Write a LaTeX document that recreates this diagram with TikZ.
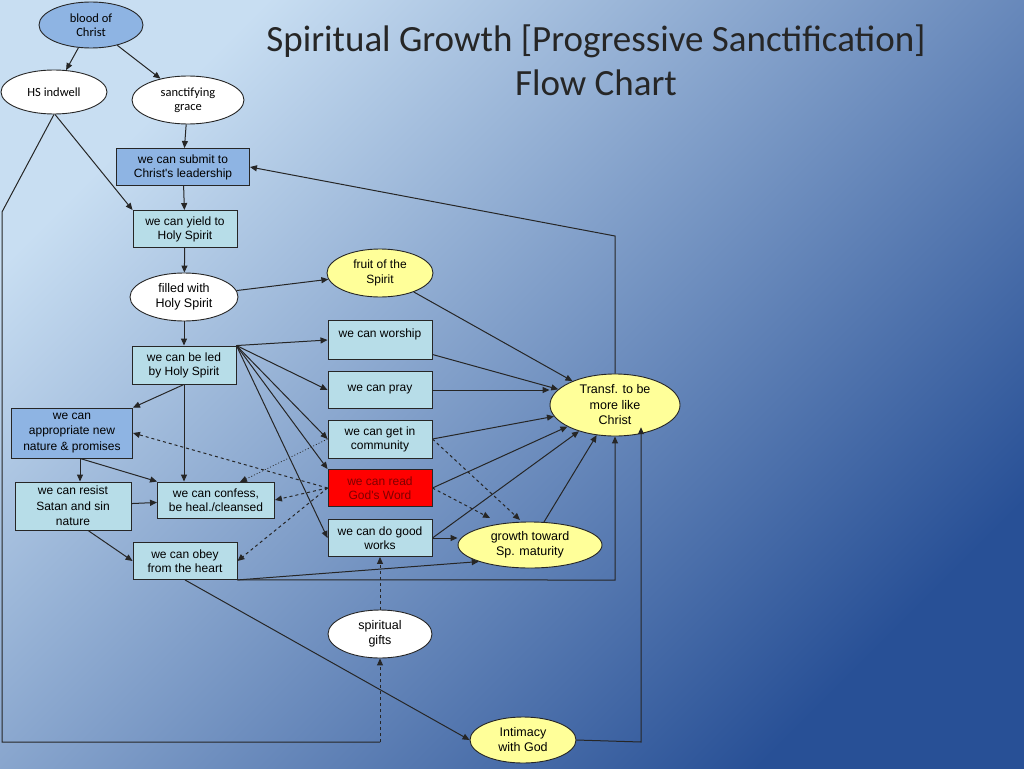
\documentclass[tikz,border=0pt]{standalone}
\usepackage{fontspec}
\setmainfont{Carlito}
\newfontfamily\arialf{Liberation Sans}
\usetikzlibrary{shapes.geometric,arrows.meta}
\definecolor{medblue}{HTML}{8EB4E3}
\definecolor{lightc}{HTML}{B7DDE8}
\definecolor{yel}{HTML}{FFFF99}
\definecolor{bgul}{RGB}{200,222,242}
\definecolor{bglr}{RGB}{40,80,150}
\begin{document}
\begin{tikzpicture}[x=1pt,y=-1pt,
  every node/.style={font=\fontsize{12.5}{14}\selectfont, align=center, inner sep=0pt, line width=0.9pt, draw=black!85},
  ov/.style={ellipse, draw, fill=white},
  bx/.style={rectangle, draw, fill=lightc, font=\arialf\fontsize{12}{14}\selectfont},
  ar/.style={-{Triangle[length=7pt,width=6pt]}, line width=1pt, black!85},
  da/.style={ar, dashed},
  do/.style={ar, dotted, line width=0.7pt}]
\useasboundingbox (0,0) rectangle (1024,768);
\shade[top color=bgul, bottom color=bglr, shading angle=45]
  (0,0) rectangle (1024,768);
\node[draw=none, font=\fontsize{37}{44}\selectfont, text=black!85] (title) at (596,60)
  {Spiritual Growth [Progressive Sanctification]\\Flow Chart};
% nodes
\node[ov, fill=medblue, minimum width=104, minimum height=46] (blood) at (91,25) {blood of\\Christ};
\node[ov, minimum width=106, minimum height=44] (hs) at (54,92) {HS indwell};
\node[ov, minimum width=112, minimum height=48] (sanct) at (188,100) {sanctifying\\grace};
\node[bx, fill=medblue, minimum width=133, minimum height=37] (submit) at (183,167) {we can submit to\\Christ's leadership};
\node[bx, minimum width=104, minimum height=37] (yield) at (185,229) {we can yield to\\Holy Spirit};
\node[ov, minimum width=108, minimum height=48, font=\arialf\fontsize{12.5}{15}\selectfont] (filled) at (184,297) {filled with\\Holy Spirit};
\node[ov, fill=yel, minimum width=106, minimum height=48, font=\arialf\fontsize{12}{15}\selectfont] (fruit) at (380,273) {fruit of the\\Spirit};
\node[bx, minimum width=104, minimum height=39, text depth=14pt] (worship) at (380,340) {we can worship};
\node[bx, minimum width=104, minimum height=38] (led) at (184,365) {we can be led\\by Holy Spirit};
\node[bx, minimum width=104, minimum height=37] (pray) at (380,390) {we can pray};
\node[ov, fill=yel, minimum width=130, minimum height=62, font=\arialf\fontsize{12.5}{15.5}\selectfont] (transf) at (615,405) {Transf. to be\\more like\\Christ};
\node[bx, fill=medblue, minimum width=121, minimum height=50, font=\arialf\fontsize{12}{15.5}\selectfont] (approp) at (72,433) {we can\\appropriate new\\nature \& promises};
\node[bx, minimum width=104, minimum height=38] (comm) at (380,439) {we can get in\\community};
\node[bx, fill=red, minimum width=104, minimum height=37, text=red!50!black] (read) at (380,488) {we can read\\God's Word};
\node[bx, minimum width=116, minimum height=48, font=\arialf\fontsize{12}{15.5}\selectfont] (resist) at (73,506) {we can resist\\Satan and sin\\nature};
\node[bx, minimum width=117, minimum height=36] (confess) at (216,500) {we can confess,\\be heal./cleansed};
\node[bx, minimum width=104, minimum height=37] (good) at (380,538) {we can do good\\works};
\node[ov, fill=yel, minimum width=144, minimum height=46, font=\arialf\fontsize{12.5}{15}\selectfont] (growth) at (530,545) {growth toward\\Sp. maturity};
\node[bx, minimum width=104, minimum height=37] (obey) at (185,561) {we can obey\\from the heart};
\node[ov, minimum width=104, minimum height=48, font=\arialf\fontsize{12.5}{15}\selectfont] (gifts) at (380,634) {spiritual\\gifts};
\node[ov, fill=yel, minimum width=106, minimum height=46, font=\arialf\fontsize{12.5}{15}\selectfont] (intim) at (523,740) {Intimacy\\with God};
\coordinate (c1) at (2,212); \coordinate (c2) at (2,742); \coordinate (c3) at (380,742);
\coordinate (t1) at (615,236); \coordinate (o1) at (615,580); \coordinate (i1) at (641,742);
\coordinate (g1) at (520,520); \coordinate (g2) at (490,518); \coordinate (cf) at (240,482);
% edges
\draw[ar] (blood) -- (hs);
\draw[ar] (blood) -- (sanct);
\draw[ar] (sanct) -- (submit);
\draw[ar] (submit) -- (yield);
\draw[ar] (hs.south) ++(1,0) -- (yield.north west);
\draw[line width=1pt, black!85] (hs.south) -- (c1) -- (c2) -- (c3);
\draw[da] (c3) -- (gifts);
\draw[da] (gifts) -- (good);
\draw[ar] (yield) -- (filled);
\draw[ar] (filled) -- (fruit);
\draw[ar] (filled) -- (led);
\draw[ar] (fruit) -- (transf);
\draw[ar] (worship) -- (transf);
\draw[ar] (pray) -- (pray -| transf.west);
\draw[ar] (comm.east) -- (transf);
\draw[ar] (read.east) -- (transf);
\draw[ar] (good.east) -- (transf);
\draw[ar] (growth) -- (transf);
\draw[ar] (transf.north) -- (t1) -- (submit.east);
\draw[ar] (led.north east) -- (worship.west);
\draw[ar] (led.north east) -- (pray.west);
\draw[ar] (led.north east) -- (comm.west);
\draw[ar] (led.north east) -- (read.north west);
\draw[ar] (led.north east) -- (good.west);
\draw[ar] (led.south) -- (approp.north east);
\draw[ar] (led) -- (confess.north -| led);
\draw[ar] (approp.south -| 80,0) -- (resist.north -| 80,0);
\draw[ar] (approp.south -| 80,0) -- (confess.north west);
\draw[ar] (resist) -- (confess);
\draw[ar] (resist.south) ++(15,0) -- (obey.west);
\draw[da] (read.west) -- (approp.east);
\draw[da] (read.west) -- (confess.east);
\draw[da] (read.west) -- (obey.east);
\draw[do] (comm.west) -- (cf);
\draw[da] (comm.east) -- (g1);
\draw[da] (read.east) -- (g2);
\draw[ar] (good.east) -- (good.east -| growth.west);
\draw[ar] (obey.south east) -- (growth.south west);
\draw[ar] (obey.south east) -- (o1) -- (transf.south);
\draw[ar] (obey.south) -- (intim.west);
\draw[ar] (intim.east) -- (i1) -- (i1 |- transf.south east);
\end{tikzpicture}
\end{document}
